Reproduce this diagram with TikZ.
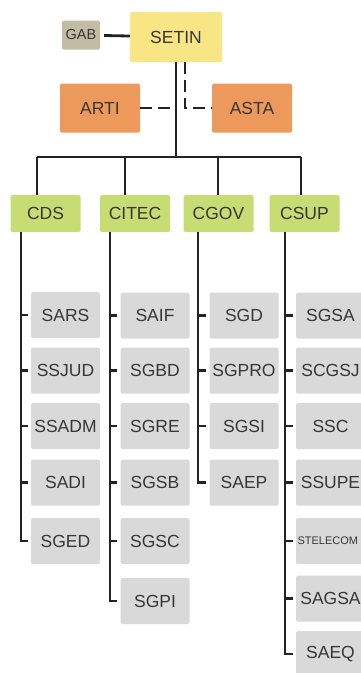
\documentclass[tikz,border=0pt]{standalone}
\usepackage{fontspec}
\setmainfont{Liberation Sans}
\usepackage{xcolor}
\usetikzlibrary{positioning}
\definecolor{setinyellow}{RGB}{248,229,132}
\definecolor{gabtan}{RGB}{196,187,165}
\definecolor{assessorange}{RGB}{238,153,92}
\definecolor{coordgreen}{RGB}{200,220,116}
\definecolor{unitgray}{RGB}{217,217,217}
\definecolor{textgray}{RGB}{55,55,55}
\definecolor{linegray}{RGB}{35,35,35}

\begin{document}
\begin{tikzpicture}[
    x=1pt, y=-1pt,
    font=\fontsize{17.5}{18}\selectfont,
    box/.style={text=textgray, inner sep=0pt, rounded corners=1.5pt},
    head box/.style={box, fill=setinyellow, minimum width=92pt, minimum height=50pt},
    gab box/.style={box, fill=gabtan, minimum width=38pt, minimum height=29pt, font=\fontsize{14.5}{15}\selectfont},
    assess box/.style={box, fill=assessorange, minimum width=80pt, minimum height=49pt},
    coord box/.style={box, fill=coordgreen, minimum width=70pt, minimum height=37pt},
    unit box/.style={box, fill=unitgray, minimum width=69pt, minimum height=46pt},
    link/.style={line width=2.8pt, draw=linegray},
    dashed link/.style={link, dash pattern=on 12pt off 6pt}
    ]
\useasboundingbox (0,0) rectangle (361,673);

% top level
\node[head box] (setin) at (176,37) {SETIN};
\node[gab box] (gab) at (81,35) {GAB};
\node[assess box] (arti) at (100,108) {ARTI};
\node[assess box] (asta) at (252,108) {ASTA};

% coordinations
\node[coord box] (cds) at (45.5,213.5) {CDS};
\node[coord box] (citec) at (135,213.5) {CITEC};
\node[coord box] (cgov) at (218.5,213.5) {CGOV};
\node[coord box] (csup) at (304.5,213.5) {CSUP};

\coordinate (bus) at (176,157);
\coordinate (cds-drop) at (37,157);
\coordinate (citec-drop) at (125,157);
\coordinate (cgov-drop) at (218,157);
\coordinate (csup-drop) at (301,157);

% units
\foreach \name/\lbl/\y in {sars/SARS/315, ssjud/SSJUD/370.5, ssadm/SSADM/426, sadi/SADI/482.5, sged/SGED/541}
  \node[unit box] (\name) at (65.5,\y) {\lbl};
\foreach \name/\lbl/\y in {saif/SAIF/315.5, sgbd/SGBD/370.5, sgre/SGRE/426, sgsb/SGSB/482.5, sgsc/SGSC/541, sgpi/SGPI/601}
  \node[unit box] (\name) at (155,\y) {\lbl};
\foreach \name/\lbl/\y in {sgd/SGD/315.5, sgpro/SGPRO/370.5, sgsi/SGSI/426, saep/SAEP/482.5}
  \node[unit box] (\name) at (244,\y) {\lbl};
\foreach \name/\lbl/\y in {sgsa/SGSA/315.5, scgsj/SCGSJ/370.5, ssc/SSC/426, ssupe/SSUPE/482.5, sagsa/SAGSA/598.5, saeq/SAEQ/654}
  \node[unit box] (\name) at (330.5,\y) {\lbl};
\node[unit box, font=\fontsize{11}{12}\selectfont, text width=66pt, align=left] (stelecom) at (330.5,541) {STELECOM};

\coordinate (cds-stem) at (21,232);
\coordinate (citec-stem) at (110,232);
\coordinate (cgov-stem) at (198,232);
\coordinate (csup-stem) at (285,232);

% links
\path[link, shorten <=4pt] (gab) edge (setin);
\draw[link] (setin.south) -- (bus);
\draw[dashed link] (arti.east) -- (arti.east -| bus);
\draw[dashed link] ([xshift=9pt]setin.south) |- (asta.west);
\draw[link] (cds-drop) -- (csup-drop);
\foreach \c in {cds,citec,cgov,csup}
  \draw[link] (\c-drop) -- (\c-drop |- \c.north);

\foreach \name in {sars,ssjud,ssadm,sadi}
  \draw[link] (cds-stem |- \name) -- ([xshift=-3pt]\name.west);
\draw[link] (cds-stem) |- ([xshift=-3pt]sged.west);
\foreach \name in {saif,sgbd,sgre,sgsb,sgsc}
  \draw[link] (citec-stem |- \name) -- ([xshift=-3pt]\name.west);
\draw[link] (citec-stem) |- ([xshift=-3pt]sgpi.west);
\foreach \name in {sgd,sgpro,sgsi}
  \draw[link] (cgov-stem |- \name) -- ([xshift=-3pt]\name.west);
\draw[link] (cgov-stem) |- ([xshift=-3pt]saep.west);
\foreach \name in {sgsa,scgsj,ssc,ssupe,stelecom,sagsa}
  \draw[link] (csup-stem |- \name) -- ([xshift=-3pt]\name.west);
\draw[link] (csup-stem) |- ([xshift=-3pt]saeq.west);
\end{tikzpicture}
\end{document}
